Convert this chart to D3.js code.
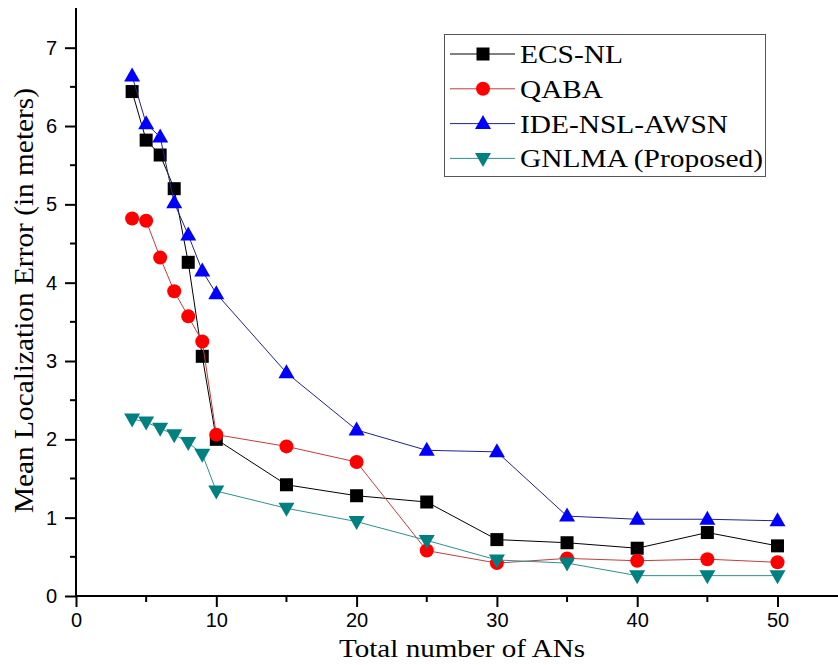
<!DOCTYPE html>
<html><head><meta charset="utf-8">
<script src="https://cdn.jsdelivr.net/npm/d3@7"></script>
<style>body{margin:0;background:#fff}svg{display:block}</style>
</head><body>
<script>
const xValues = [4,5,6,7,8,9,10,15,20,25,30,35,40,45,50];
const ecsNL   = [6.44,5.82,5.63,5.20,4.26,3.06,2.00,1.42,1.28,1.20,0.72,0.68,0.61,0.81,0.64];
const qaba    = [4.82,4.79,4.32,3.89,3.57,3.25,2.06,1.91,1.71,0.58,0.42,0.48,0.45,0.47,0.43];
const ideNSL  = [6.64,6.03,5.86,5.02,4.61,4.15,3.86,2.85,2.12,1.86,1.84,1.02,0.98,0.98,0.96];
const gnlma   = [2.26,2.22,2.14,2.06,1.96,1.81,1.34,1.12,0.95,0.71,0.46,0.42,0.26,0.26,0.26];
const seriesNames = ["ECS-NL","QABA","IDE-NSL-AWSN","GNLMA (Proposed)"];
const xTicks = [0,10,20,30,40,50];
const yTicks = [0,1,2,3,4,5,6,7];
const xLabel = "Total number of ANs";
const yLabel = "Mean Localization Error (in meters)";

const W = 838, H = 665;
const svg = d3.select("body").append("svg").attr("width", W).attr("height", H);

const x = d3.scaleLinear().domain([0, 55]).range([76, 76 + 55 * 14.03]);
const y = d3.scaleLinear().domain([0, 7.5]).range([596, 596 - 7.5 * 78.33]);

const styles = [
  {marker: "square", fill: "#000000", line: "#000000"},
  {marker: "circle", fill: "#ff0000", line: "#c43c3c"},
  {marker: "up", fill: "#0000ff", line: "#22228a"},
  {marker: "down", fill: "#008080", line: "#2f9090"}
];
const data = [ecsNL, qaba, ideNSL, gnlma];
const serif = "Liberation Serif, Times New Roman, serif";

function drawMarker(g, type, cx, cy, fill) {
  if (type === "square") {
    g.append("rect").attr("x", cx - 6.5).attr("y", cy - 6.5).attr("width", 13).attr("height", 13).attr("fill", fill);
  } else if (type === "circle") {
    g.append("circle").attr("cx", cx).attr("cy", cy).attr("r", 7).attr("fill", fill);
  } else if (type === "up") {
    g.append("path").attr("d", `M${cx},${cy - 8.5}L${cx + 8},${cy + 5.5}L${cx - 8},${cy + 5.5}Z`).attr("fill", fill);
  } else {
    g.append("path").attr("d", `M${cx},${cy + 8.5}L${cx + 8},${cy - 5.5}L${cx - 8},${cy - 5.5}Z`).attr("fill", fill);
  }
}

// series
const line = d3.line().x(d => x(d[0])).y(d => y(d[1]));
data.forEach((vals, i) => {
  const pts = xValues.map((xv, j) => [xv, vals[j]]);
  const g = svg.append("g");
  g.append("path").attr("d", line(pts)).attr("fill", "none")
    .attr("stroke", styles[i].line).attr("stroke-width", 1);
  pts.forEach(p => drawMarker(g, styles[i].marker, x(p[0]), y(p[1]), styles[i].fill));
});

// axes
const xAxis = svg.append("g").attr("transform", `translate(0,${y(0)})`)
  .call(d3.axisBottom(x).tickValues(xTicks).tickSize(11).tickPadding(6).tickFormat(d3.format("d")));
const yAxis = svg.append("g").attr("transform", `translate(${x(0)},0)`)
  .call(d3.axisLeft(y).tickValues(yTicks).tickSize(11).tickPadding(8).tickFormat(d3.format("d")));
[xAxis, yAxis].forEach(a => {
  a.select(".domain").attr("stroke", "#000").attr("stroke-width", 2);
  a.selectAll(".tick line").attr("stroke", "#000").attr("stroke-width", 2);
  a.selectAll(".tick text").attr("font-family", "Liberation Sans, Arial, sans-serif")
    .attr("font-size", 20).attr("fill", "#000");
});
xAxis.select(".domain").attr("d", `M${x(0)},0H${W}`);
yAxis.select(".domain").attr("d", `M0,${y(0)}V8`);

// minor ticks
const xMinor = d3.range(5, 55, 10);
svg.append("g").selectAll("line").data(xMinor).join("line")
  .attr("x1", d => x(d)).attr("x2", d => x(d)).attr("y1", y(0)).attr("y2", y(0) + 6)
  .attr("stroke", "#000").attr("stroke-width", 2);
const yMinor = d3.range(0.5, 7.5, 1);
svg.append("g").selectAll("line").data(yMinor).join("line")
  .attr("x1", x(0) - 6).attr("x2", x(0)).attr("y1", d => y(d)).attr("y2", d => y(d))
  .attr("stroke", "#000").attr("stroke-width", 2);

// titles
svg.append("text").attr("x", 462).attr("y", 657).attr("text-anchor", "middle")
  .attr("font-family", serif).attr("font-size", 26)
  .attr("textLength", 246).attr("lengthAdjust", "spacingAndGlyphs").text(xLabel);
svg.append("text").attr("transform", "translate(33,300.5) rotate(-90)").attr("text-anchor", "middle")
  .attr("font-family", serif).attr("font-size", 27)
  .attr("textLength", 425).attr("lengthAdjust", "spacingAndGlyphs").text(yLabel);

// legend
const legendWidths = [103, 83, 208, 243];
const lg = svg.append("g");
lg.append("rect").attr("x", 444.5).attr("y", 34.5).attr("width", 321).attr("height", 142)
  .attr("fill", "#fff").attr("stroke", "#555").attr("stroke-width", 1);
seriesNames.forEach((name, i) => {
  const cy = 54 + i * 34.8;
  lg.append("line").attr("x1", 450).attr("x2", 515).attr("y1", cy).attr("y2", cy)
    .attr("stroke", styles[i].line).attr("stroke-width", 1);
  drawMarker(lg, styles[i].marker, 483, cy, styles[i].fill);
  lg.append("text").attr("x", 520).attr("y", cy + 9).attr("font-family", serif)
    .attr("font-size", 26).attr("textLength", legendWidths[i]).attr("lengthAdjust", "spacingAndGlyphs").text(name);
});
</script>
</body></html>
